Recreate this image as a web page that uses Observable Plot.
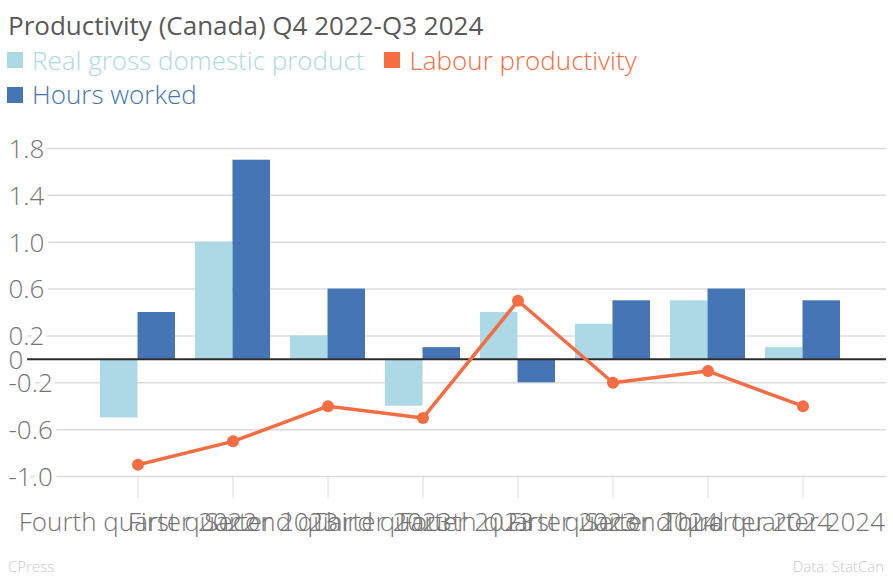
<!DOCTYPE html>
<html><head><meta charset="utf-8">
<script src="https://cdn.jsdelivr.net/npm/d3@7"></script>
<script src="https://cdn.jsdelivr.net/npm/@observablehq/plot@0.6"></script>
<style>
body{margin:0;background:#fff;font-family:"Open Sans",sans-serif;}
#wrap{position:relative;width:893px;height:576px;overflow:hidden}
#title{position:absolute;left:8px;top:8px;font-size:26px;color:#595959;line-height:34px;white-space:nowrap}
#legend{position:absolute;left:7px;top:42px;width:680px;font-size:26px;font-weight:300;line-height:33px}
.item{display:inline-flex;align-items:center;margin-right:20px;white-space:nowrap}
.sw{width:16px;height:16px;margin-right:9px;display:inline-block}
#chart{position:absolute;left:0;top:120px}
.foot{position:absolute;top:556px;font-size:15px;line-height:20px;color:#c8c8c8;font-weight:300}
</style></head>
<body><div id="wrap">
<div id="title"></div>
<div id="legend"></div>
<div id="chart"></div>
<div class="foot" style="left:8px">CPress</div>
<div class="foot" style="right:9px">Data: StatCan</div>
</div>
<script>
const titleText = "Productivity (Canada) Q4 2022-Q3 2024";
const quarters = ["Fourth quarter 2022","First quarter 2023","Second quarter 2023","Third quarter 2023","Fourth quarter 2023","First quarter 2024","Second quarter 2024","Third quarter 2024"];
const gdp = [-0.5, 1.0, 0.2, -0.4, 0.4, 0.3, 0.5, 0.1];
const hours = [0.4, 1.7, 0.6, 0.1, -0.2, 0.5, 0.6, 0.5];
const labour = [-0.9, -0.7, -0.4, -0.5, 0.5, -0.2, -0.1, -0.4];
const yTicks = [-1.0, -0.6, -0.2, 0, 0.2, 0.6, 1.0, 1.4, 1.8];
const yTickLabels = ["-1.0","-0.6","-0.2","0","0.2","0.6","1.0","1.4","1.8"];
const seriesNames = ["Real gross domestic product","Labour productivity","Hours worked"];
const seriesColors = ["#add8e6","#f46d43","#4575b4"];

document.getElementById("title").textContent = titleText;
const leg = document.getElementById("legend");
seriesNames.forEach((n,i)=>{
  const it = document.createElement("span"); it.className="item"; it.style.color = seriesColors[i];
  const sw = document.createElement("span"); sw.className="sw"; sw.style.background = seriesColors[i];
  it.appendChild(sw); it.appendChild(document.createTextNode(n));
  leg.appendChild(it);
});

const gdpRows = quarters.map((q,i)=>({q, v: gdp[i]}));
const hoursRows = quarters.map((q,i)=>({q, v: hours[i]}));
const lpRows = quarters.map((q,i)=>({q, v: labour[i]}));
const tickRows = yTicks.map((v,i)=>({v, label: yTickLabels[i]}));
const gridRows = tickRows.filter(d=>d.v !== 0);
const last = quarters[quarters.length-1];

const chart = Plot.plot({
  width: 893, height: 430,
  marginTop: 28, marginBottom: 74, marginLeft: 27, marginRight: 7,
  style: {fontFamily: '"Open Sans", sans-serif', background: "transparent"},
  x: {type: "band", domain: quarters, range: [89.5, 849.5], paddingInner: 20/95, paddingOuter: 10/95},
  y: {domain: [-1.0, 1.8], axis: null},
  marks: [
    Plot.ruleY(gridRows, {y: "v", stroke: "#dcdcdc", strokeWidth: 1.5}),
    Plot.barY(gdpRows, {x: "q", y: "v", fill: seriesColors[0], insetRight: 37.5}),
    Plot.barY(hoursRows, {x: "q", y: "v", fill: seriesColors[2], insetLeft: 37.5}),
    Plot.ruleY([0], {stroke: "#2b2b2b", strokeWidth: 2}),
    Plot.line(lpRows, {x: "q", y: "v", stroke: seriesColors[1], strokeWidth: 3.5}),
    Plot.dot(lpRows, {x: "q", y: "v", r: 6, fill: seriesColors[1]}),
    Plot.axisX({tickSize: 22, stroke: "#dcdcdc", strokeWidth: 1, tickFormat: () => "", label: null}),
    Plot.text(quarters.filter(q => q !== last), {x: d => d, text: d => d, frameAnchor: "bottom", lineAnchor: "bottom", dy: 54, fontSize: 26, fontWeight: 300, fill: "#757575"}),
    Plot.text([last], {x: d => d, text: d => d, frameAnchor: "bottom", lineAnchor: "bottom", textAnchor: "end", dx: 82, dy: 54, fontSize: 26, fontWeight: 300, fill: "#757575"}),
    Plot.text(tickRows, {y: "v", text: "label", frameAnchor: "left", textAnchor: "start", lineAnchor: "middle", dx: -19, dy: 1, fontSize: 26, fontWeight: 300, fill: "#757575", stroke: "white", strokeWidth: 10, paintOrder: "stroke"})
  ]
});
document.getElementById("chart").appendChild(chart);
</script>
</body></html>
